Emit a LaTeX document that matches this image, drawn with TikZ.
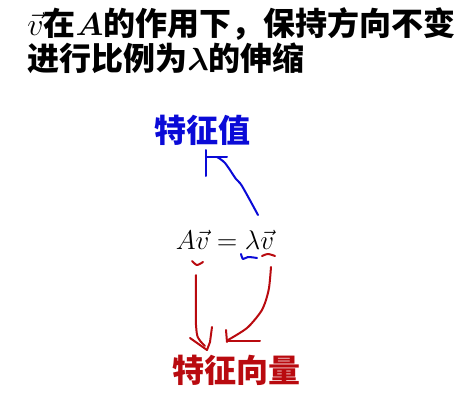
\RequirePackage{fix-cm}
\documentclass[tikz,border=0pt]{standalone}
\usepackage{amsmath}
\usepackage{bm}
\usepackage{fontspec}
\newfontfamily\cjk{Noto Sans CJK SC}
\definecolor{penblue}{RGB}{10,10,215}
\definecolor{penred}{RGB}{185,10,15}

\tikzset{
  titletext/.style={anchor=base west, inner sep=0pt, font=\cjk\bfseries\fontsize{16}{18}\selectfont},
  wordbox/.style={anchor=base, inner sep=0pt, font=\cjk\bfseries\fontsize{16}{18}\selectfont},
  bluepen/.style={draw=penblue, line width=1pt, line cap=round, line join=round},
  redpen/.style={draw=penred, line width=1pt, line cap=round, line join=round},
}

\begin{document}
\begin{tikzpicture}[x=0.5pt,y=-0.5pt]
  \useasboundingbox (0,0) rectangle (473,402);

  % title
  \node[titletext] (line1) at (27,35) {$\vec{v}$在$\bm{A}$的作用下，保持方向不变};
  \node[titletext] (line2) at (27,70) {进行比例为$\bm{\lambda}$的伸缩};

  % equation
  \node[anchor=base, inner sep=0pt, font=\fontsize{13.5}{16}\selectfont] (eq) at (225,249) {$A\vec{v}=\lambda\vec{v}$};

  % eigenvalue
  \node[wordbox, text=penblue] (val) at (203,142) {特征值};
  \coordinate (lamtail) at (258,215);
  \coordinate (valtip) at (217,157);
  \draw[bluepen] plot[smooth] coordinates {(lamtail) (242,186) (236,179) (225,163) (valtip)};
  \draw[bluepen] (206,157) -- (227,157);
  \draw[bluepen] (206,150) -- (206,176);
  % marks under lambda
  \draw[bluepen] plot[smooth] coordinates {(241,254) (243,259) (248,257) (257,258)};

  % eigenvector
  \node[wordbox, text=penred] (vec) at (237,382) {特征向量};
  \draw[redpen] plot[smooth] coordinates {(192,261) (197,265) (203,262)};
  \draw[redpen] plot[smooth] coordinates {(262,256) (268,254) (275,256)};
  % left arrow
  \coordinate (ltail) at (196,275);
  \coordinate (ltip) at (207,350);
  \draw[redpen] (ltail) -- (196,325) .. controls (197,338) .. (205,346);
  \draw[redpen] (190,338) -- (ltip);
  \draw[redpen] (212,327) -- (210,342) -- (ltip);
  % right arrow
  \coordinate (rtail) at (271,267);
  \coordinate (rtip) at (228,340);
  \draw[redpen] plot[smooth] coordinates {(rtail) (269,288) (265,303) (260,313) (247,328) (rtip)};
  \draw[redpen] (226,330) -- (227,342);
  \draw[redpen] (227,341) -- (260,341);
\end{tikzpicture}
\end{document}
